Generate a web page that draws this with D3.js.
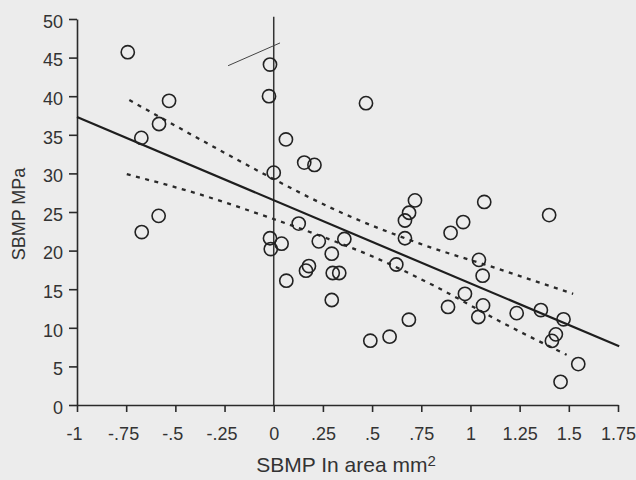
<!DOCTYPE html>
<html lang="en">
<head>
    <style>
        body { margin: 0; background: #ececec; }
        svg { background: #ececec; }
        .axis text { font-family: "Liberation Sans", Arial, sans-serif; font-size: 18px; fill: #333; }
        .axis path, .axis line { stroke: #2a2a2a; stroke-width: 1.6; }
        .pt { fill: none; stroke: #222; stroke-width: 1.6; }
    </style>
    <script src="https://d3js.org/d3.v7.min.js"></script>
</head>
<body>
    <svg width="636" height="480"></svg>
    <script>
        // measured points (x = ln area, y = MPa)
        var xValues = [-0.742, -0.019, -0.024, -0.532, -0.583, -0.673, 0.0, -0.585, -0.671, 0.062,
                       0.155, 0.207, 0.469, 0.718, 0.688, 0.667, 0.127, -0.019, 0.04, -0.015,
                       0.229, 0.359, 0.667, 0.295, 0.179, 0.164, 0.30, 0.333, 0.623, 0.064,
                       0.295, 0.687, 0.589, 0.491, 1.070, 1.400, 0.963, 0.899, 1.043, 1.062,
                       0.972, 0.886, 1.064, 1.040, 1.235, 1.358, 1.473, 1.434, 1.414, 1.548, 1.458];
        var yValues = [45.7, 44.1, 40.0, 39.4, 36.4, 34.6, 30.1, 24.5, 22.4, 34.4,
                       31.4, 31.1, 39.1, 26.5, 24.9, 23.9, 23.5, 21.6, 20.9, 20.2,
                       21.2, 21.5, 21.6, 19.6, 18.0, 17.4, 17.1, 17.1, 18.2, 16.1,
                       13.6, 11.05, 8.85, 8.33, 26.3, 24.6, 23.7, 22.3, 18.8, 16.75,
                       14.4, 12.7, 12.9, 11.4, 11.9, 12.3, 11.1, 9.15, 8.3, 5.3, 3.0];

        // regression line and confidence band
        var fitX = [-1, 1.756];
        var fitY = [37.3, 7.6];
        var upperX = [-0.734, -0.324, -0.07, 0.337, 0.743, 1.133, 1.522];
        var upperY = [39.5, 33.7, 30.2, 25.0, 20.9, 17.7, 14.4];
        var lowerX = [-0.747, -0.391, -0.036, 0.269, 0.506, 0.811, 1.167, 1.489];
        var lowerY = [29.9, 27.4, 24.4, 21.6, 19.2, 15.5, 10.6, 6.5];

        // stray pen mark near the top
        var markX = [-0.232, 0.032];
        var markY = [43.95, 46.9];

        var xTicks = [-1, -0.75, -0.5, -0.25, 0, 0.25, 0.5, 0.75, 1, 1.25, 1.5, 1.75];
        var xTickLabels = ["-1", "-.75", "-.5", "-.25", "0", ".25", ".5", ".75", "1", "1.25", "1.5", "1.75"];
        var yTicks = [0, 5, 10, 15, 20, 25, 30, 35, 40, 45, 50];

        var svg = d3.select("svg");

        var x = d3.scaleLinear().domain([-1, 1.75]).range([77, 618]);
        var y = d3.scaleLinear().domain([0, 50]).range([405, 19]);

        // vertical zero line
        svg.append("line")
            .attr("x1", x(0)).attr("x2", x(0))
            .attr("y1", y(0)).attr("y2", y(50.3))
            .attr("stroke", "#333").attr("stroke-width", 1.5);

        var xAxis = svg.append("g")
            .attr("class", "axis")
            .attr("transform", "translate(0," + y(0) + ")")
            .call(d3.axisBottom(x).tickValues(xTicks)
                .tickFormat(function(d, i) { return xTickLabels[i]; })
                .tickSize(7).tickSizeOuter(0).tickPadding(15));
        xAxis.selectAll("text")
            .attr("dx", function(d, i) { return xTickLabels[i].charAt(0) == "-" ? "-0.17em" : 0; });

        var yAxis = svg.append("g")
            .attr("class", "axis")
            .attr("transform", "translate(" + x(-1) + ",0)")
            .call(d3.axisLeft(y).tickValues(yTicks).tickSize(8).tickSizeOuter(0).tickPadding(6));
        yAxis.selectAll("text").attr("dy", "0.46em");

        svg.selectAll(".axis .domain").attr("fill", "none");

        var line = d3.line()
            .x(function(d) { return x(d[0]); })
            .y(function(d) { return y(d[1]); });

        svg.append("path")
            .datum(fitX.map(function(v, i) { return [v, fitY[i]]; }))
            .attr("d", line)
            .attr("fill", "none").attr("stroke", "#1e1e1e").attr("stroke-width", 2.2);

        var band = d3.line().curve(d3.curveMonotoneX)
            .x(function(d) { return x(d[0]); })
            .y(function(d) { return y(d[1]); });

        [[upperX, upperY], [lowerX, lowerY]].forEach(function(b) {
            svg.append("path")
                .datum(b[0].map(function(v, i) { return [v, b[1][i]]; }))
                .attr("d", band)
                .attr("fill", "none").attr("stroke", "#2a2a2a")
                .attr("stroke-width", 2.3).attr("stroke-dasharray", "4,5.5");
        });

        svg.append("path")
            .datum(markX.map(function(v, i) { return [v, markY[i]]; }))
            .attr("d", line)
            .attr("fill", "none").attr("stroke", "#444").attr("stroke-width", 1);

        svg.selectAll(".pt")
            .data(xValues)
            .enter().append("circle")
            .attr("class", "pt")
            .attr("cx", function(d) { return x(d); })
            .attr("cy", function(d, i) { return y(yValues[i]); })
            .attr("r", 6.6);

        svg.append("text")
            .attr("transform", "translate(25," + 214 + ") rotate(-90)")
            .attr("text-anchor", "middle")
            .attr("font-family", "Liberation Sans, Arial, sans-serif")
            .attr("font-size", "18px")
            .attr("fill", "#333")
            .text("SBMP MPa");

        var xl = svg.append("text")
            .attr("x", 346)
            .attr("y", 472)
            .attr("text-anchor", "middle")
            .attr("font-family", "Liberation Sans, Arial, sans-serif")
            .attr("font-size", "21px")
            .attr("fill", "#333");
        xl.append("tspan").text("SBMP In area mm");
        xl.append("tspan").attr("dy", "-0.4em").attr("font-size", "15px").text("2");
    </script>
</body>
</html>
